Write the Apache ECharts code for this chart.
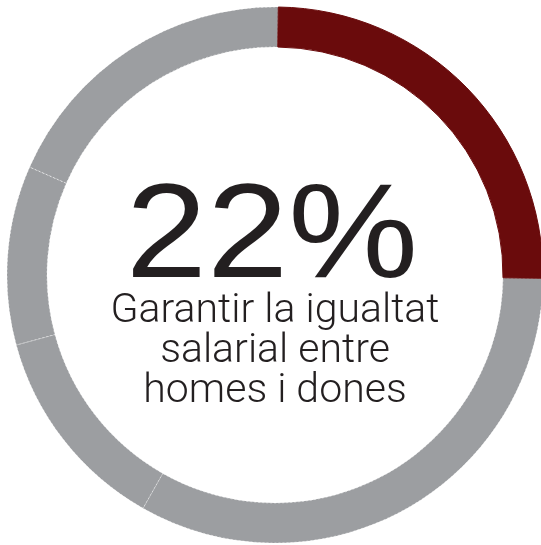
<!DOCTYPE html>
<html>
<head>
<meta charset="utf-8">
<script src="https://cdn.jsdelivr.net/npm/echarts@6/dist/echarts.min.js"></script>
<style>
  html, body { margin: 0; padding: 0; background: #fff; }
  #donut { width: 541px; height: 545px; }
</style>
</head>
<body>
<div id="donut"></div>
<script>
// segments in drawing order, clockwise from 3 o'clock; the highlighted one last
const segNames = ['Altres A', 'Altres B', 'Altres C', 'Altres D', 'Garantir la igualtat salarial entre homes i dones']
const segValues = [33.0, 12.6, 10.8, 18.6, 25.0]
const segColors = ['#9c9ea1', '#9c9ea1', '#9c9ea1', '#9c9ea1', '#6a0b0c']
const bigLabel = '22%'
const subLabel = ['Garantir la igualtat', 'salarial entre', 'homes i dones']

let chart = echarts.init(document.getElementById('donut'))

const pieData = segNames.map((n, i) => {
  const last = i === segNames.length - 1
  return {
    name: n,
    value: segValues[i],
    itemStyle: {
      color: segColors[i],
      borderColor: last ? segColors[i] : 'rgba(255,255,255,0.5)',
      borderWidth: 1,
      borderType: last ? 'solid' : [2, 2]
    }
  }
})

chart.setOption({
  animation: false,
  series: [{
    type: 'pie',
    center: [275, 275],
    radius: [228, 268],
    startAngle: -0.7,
    clockwise: true,
    label: { show: false },
    labelLine: { show: false },
    emphasis: { disabled: true },
    data: pieData
  }],
  graphic: [
    {
      type: 'text',
      x: 272,
      y: 240,
      scaleX: 1.09,
      style: {
        text: bigLabel,
        fill: '#231f20',
        font: '134px "Liberation Sans"',
        textAlign: 'center',
        textVerticalAlign: 'middle'
      }
    },
    {
      type: 'text',
      x: 275,
      y: 352,
      style: {
        text: subLabel.join('\n'),
        fill: '#231f20',
        font: '300 41px Roboto',
        lineHeight: 40,
        textAlign: 'center',
        textVerticalAlign: 'middle'
      }
    }
  ]
})
</script>
</body>
</html>
